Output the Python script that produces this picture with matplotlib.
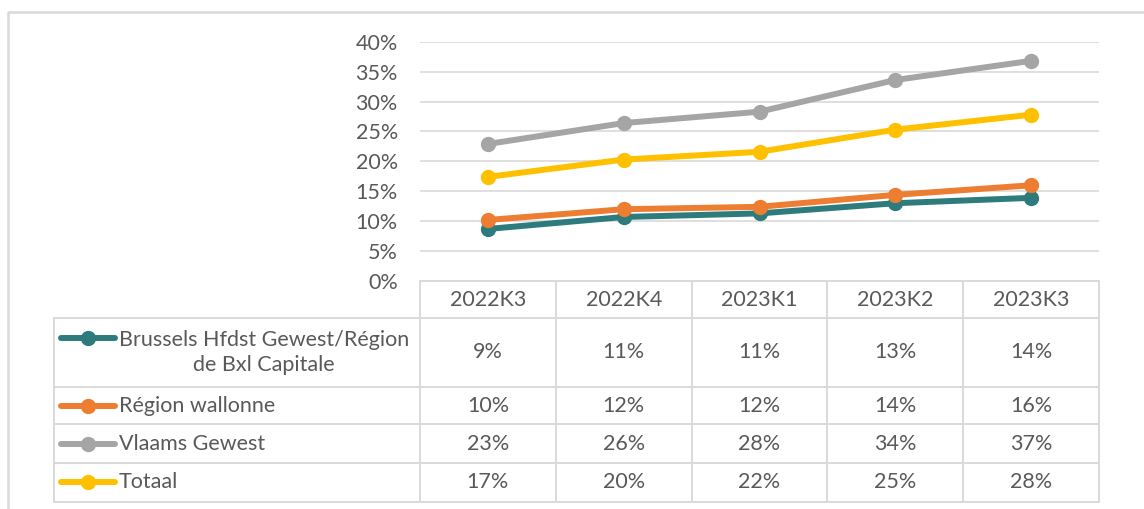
import matplotlib
matplotlib.use("Agg")
import matplotlib.pyplot as plt
from matplotlib.transforms import blended_transform_factory
from matplotlib.lines import Line2D

# ---- data ----
categories = ["2022K3", "2022K4", "2023K1", "2023K2", "2023K3"]
series_names = ["Brussels Hfdst Gewest/Région\nde Bxl Capitale", "Région wallonne",
                "Vlaams Gewest", "Totaal"]
brussels = [8.7, 10.7, 11.3, 13.0, 13.9]
wallonie = [10.2, 12.0, 12.4, 14.4, 16.0]
vlaanderen = [22.9, 26.4, 28.3, 33.6, 36.8]
totaal = [17.4, 20.3, 21.6, 25.3, 27.8]
series_values = [brussels, wallonie, vlaanderen, totaal]
colors = ["#2E7B7E", "#ED7D31", "#A5A5A5", "#FFC000"]
yticks = [0, 5, 10, 15, 20, 25, 30, 35, 40]
ytick_labels = [f"{v}%" for v in yticks]

W, H = 1144, 509
TXT = "#595959"
GRID = "#D9D9D9"
FONT = ["Lato", "DejaVu Sans"]
FS = 15.5

plt.rcParams["font.family"] = FONT

fig = plt.figure(figsize=(W / 100, H / 100), dpi=100)
fig.patch.set_facecolor("white")

# overlay in pixel coordinates (for frame + table)
ov = fig.add_axes([0, 0, 1, 1], zorder=0)
ov.set_xlim(0, W)
ov.set_ylim(H, 0)
ov.axis("off")

# plot area
x0, x1 = 420, 1099
ytop, ybot = 41.7, 281
ax = fig.add_axes([x0 / W, 1 - ybot / H, (x1 - x0) / W, (ybot - ytop) / H], zorder=2)
ax.set_facecolor("none")
ax.set_xlim(-0.5, len(categories) - 0.5)
ax.set_ylim(0, 40)
ax.set_yticks(yticks)
ax.set_yticklabels(ytick_labels)
ax.set_xticks([])
for s in ax.spines.values():
    s.set_visible(False)
ax.tick_params(axis="y", length=0, pad=16, labelsize=FS, labelcolor=TXT)
for v in yticks[1:]:
    ax.axhline(v, color=GRID, lw=1.2, zorder=0)

xs = list(range(len(categories)))
for vals, c in zip(series_values, colors):
    ax.plot(xs, vals, color=c, lw=4.3, marker="o", ms=10, zorder=3,
            solid_capstyle="round")

# frame
ov.plot([8, 8, W], [H, 12, 12], color=GRID, lw=1.8)

# table
bt = blended_transform_factory(ax.transData, ov.transData)
row_edges = [281, 318, 387, 424, 463, 501.5]
leg_left = 54
n = len(categories)
ov.plot([x0, x1], [row_edges[0]] * 2, color=GRID, lw=1.4)
for y in row_edges[1:]:
    ov.plot([leg_left, x1], [y, y], color=GRID, lw=1.4)
for i in range(n + 1):
    ov.plot([i - 0.5, i - 0.5], [row_edges[0], row_edges[-1]], color=GRID, lw=1.4,
            transform=bt)
ov.plot([leg_left, leg_left], [row_edges[1], row_edges[-1]], color=GRID, lw=1.4)

# header
hy = (row_edges[0] + row_edges[1]) / 2
for i, cat in enumerate(categories):
    ov.text(i, hy, cat, transform=bt, ha="center", va="center", fontsize=FS, color=TXT)

# rows
for r, (name, vals, c) in enumerate(zip(series_names, series_values, colors)):
    yc = (row_edges[r + 1] + row_edges[r + 2]) / 2
    ly = yc - 15 if r == 0 else yc
    ov.add_line(Line2D([61, 115], [ly, ly], color=c, lw=4.3, solid_capstyle="round"))
    ov.plot([88], [ly], marker="o", ms=10, color=c)
    ov.text(119, yc, name, ha="left", va="center", multialignment="center",
            fontsize=FS, color=TXT, linespacing=1.35)
    for i, v in enumerate(vals):
        ov.text(i, yc, f"{v:.0f}%", transform=bt, ha="center", va="center",
                fontsize=FS, color=TXT)

fig.savefig("out.png", dpi=100, facecolor="white")
